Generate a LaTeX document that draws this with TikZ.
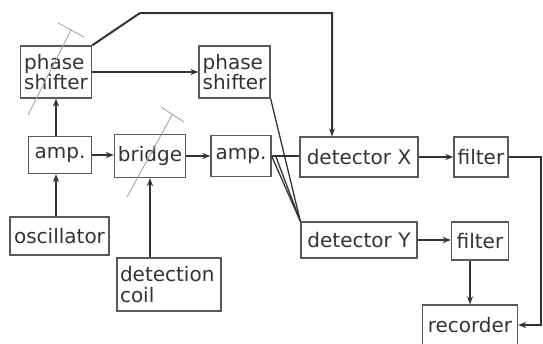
\documentclass[tikz,border=0pt]{standalone}
\usepackage{fontspec}
\setmainfont{DejaVu Sans}
\usetikzlibrary{arrows.meta,calc}
\begin{document}
\begin{tikzpicture}[x=1pt,y=-1pt,
  blk/.style={draw=black!65,line width=1.3pt,inner sep=0pt,font=\fontsize{20}{20.5}\selectfont,text=black!80},
  lft/.style={align=left},
  arr/.style={draw=black!80,line width=2pt,-{Stealth[length=8pt,width=6pt]}},
  ln/.style={draw=black!80,line width=1.3pt},
  dial/.style={draw=black!35,line width=0.9pt}]
\useasboundingbox (0,0) rectangle (543,343);
% blocks
\node[blk,lft,minimum width=71pt,minimum height=52pt] (ps1) at (56,72) {phase\\shifter};
\node[blk,lft,minimum width=71pt,minimum height=52pt] (ps2) at (234.5,72) {phase\\shifter};
\node[blk,minimum width=63pt,minimum height=37pt] (amp1) at (60,155) {amp.};
\node[blk,minimum width=71pt,minimum height=43pt] (bridge) at (150,156) {bridge};
\node[blk,minimum width=60pt,minimum height=41pt] (amp2) at (241,156) {amp.};
\node[blk,minimum width=118pt,minimum height=40pt] (detX) at (359,157) {detector X};
\node[blk,minimum width=54pt,minimum height=40pt] (filX) at (481,157) {filter};
\node[blk,minimum width=99pt,minimum height=38pt] (osc) at (59.5,236) {oscillator};
\node[blk,lft,minimum width=104pt,minimum height=53pt,text width=98pt] (coil) at (169,284.5) {detection\\coil};
\node[blk,minimum width=116pt,minimum height=36pt] (detY) at (359,240) {detector Y};
\node[blk,minimum width=57pt,minimum height=38pt] (filY) at (480,241) {filter};
\node[blk,minimum width=95pt,minimum height=40pt] (rec) at (470,325) {recorder};
% helper coordinates
\coordinate (topbend) at (140,13);
\coordinate (topcorner) at (332,13);
\coordinate (rightc) at (541,157);
% dials
\draw[dial] (28,115) -- (71,30);
\draw[dial] (58,23) -- (84,37);
\draw[dial] (127,197) -- (172,115);
\draw[dial] (161,107) -- (184,122);
% connectors
\draw[arr] (osc.north -| ps1.south) -- (amp1.south -| ps1.south);
\draw[arr] (amp1.north -| ps1.south) -- (ps1.south);
\draw[arr] (amp1.east) -- (amp1.east -| bridge.west);
\draw[arr] (amp2.west -| bridge.east) -- (amp2.west);
\draw[arr] (coil.north -| bridge.south) -- (bridge.south);
\draw[arr] (ps1.east) -- (ps2.west);
\draw[arr] (ps1.north east) -- (topbend) -- (topcorner) -- (topcorner |- detX.north);
\draw[ln] (amp2.east) -- (amp2.east -| detX.west);
\draw[ln] (amp2.east) -- (detY.north west);
\draw[ln] ([xshift=4pt]amp2.east) -- (detY.north west);
\draw[ln] (ps2.south east) -- (detY.north west);
\draw[arr] (detX.east) -- (filX.west);
\draw[arr] (detY.east) -- (detY.east -| filY.west);
\draw[arr] (filY.south -| rec.north) -- (rec.north);
\draw[arr] (filX.east) -- (rightc) |- (rec.east);
\end{tikzpicture}
\end{document}
